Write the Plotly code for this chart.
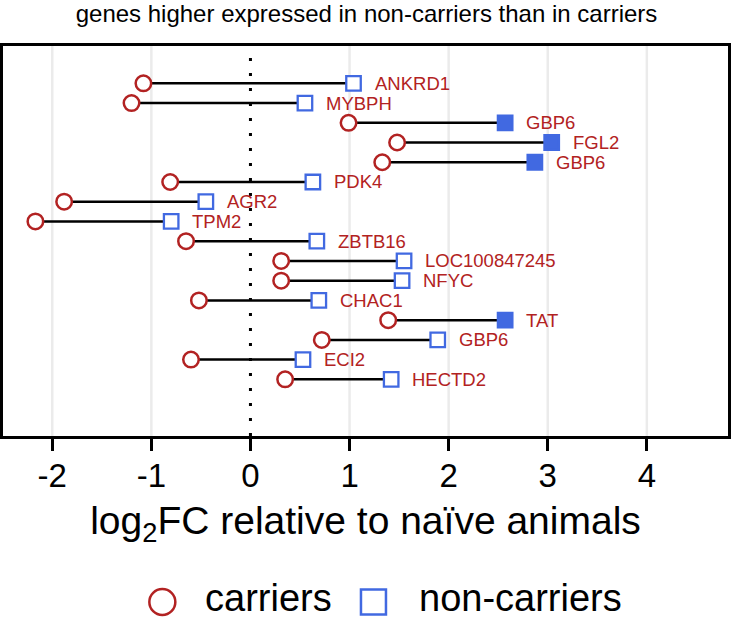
import plotly.graph_objects as go

# --- data ---
genes = ["ANKRD1", "MYBPH", "GBP6", "FGL2", "GBP6", "PDK4", "AGR2", "TPM2",
         "ZBTB16", "LOC100847245", "NFYC", "CHAC1", "TAT", "GBP6", "ECI2", "HECTD2"]
carriers = [-1.08, -1.20, 0.99, 1.48, 1.33, -0.81, -1.88, -2.17,
            -0.65, 0.31, 0.31, -0.52, 1.39, 0.72, -0.60, 0.35]
non_carriers = [1.04, 0.55, 2.57, 3.04, 2.87, 0.63, -0.45, -0.80,
                0.67, 1.55, 1.53, 0.69, 2.57, 1.89, 0.53, 1.42]
significant = [False, False, True, True, True, False, False, False,
               False, False, False, False, True, False, False, False]
x_ticks = [-2, -1, 0, 1, 2, 3, 4]

# --- styling ---
RED = "#B22222"
BLUE = "#4169E1"
FONT = "Liberation Sans, Arial, sans-serif"
W, H = 733, 621
M_L, M_R, M_T, M_B = 3, 2, 46, 185
PW, PH = W - M_L - M_R, H - M_T - M_B

rows = list(range(len(genes)))

fig = go.Figure()

# segments carrier -> non-carrier
seg_x, seg_y = [], []
for r, c, n in zip(rows, carriers, non_carriers):
    seg_x += [c, n, None]
    seg_y += [r, r, None]
fig.add_trace(go.Scatter(x=seg_x, y=seg_y, mode="lines",
                         line=dict(color="black", width=2.5),
                         hoverinfo="skip", showlegend=False))

# carriers (open circles)
fig.add_trace(go.Scatter(
    x=carriers, y=rows, mode="markers", name="carriers", text=genes,
    marker=dict(symbol="circle", size=15.5, color="white",
                line=dict(color=RED, width=2.5)),
    showlegend=False))

# non-carriers, open vs filled squares
open_idx = [i for i in rows if not significant[i]]
fill_idx = [i for i in rows if significant[i]]
fig.add_trace(go.Scatter(
    x=[non_carriers[i] for i in open_idx], y=open_idx, mode="markers",
    name="non-carriers", text=[genes[i] for i in open_idx],
    marker=dict(symbol="square", size=14.5, color="white",
                line=dict(color=BLUE, width=2.3)),
    showlegend=False))
fig.add_trace(go.Scatter(
    x=[non_carriers[i] for i in fill_idx], y=fill_idx, mode="markers",
    name="non-carriers", text=[genes[i] for i in fill_idx],
    marker=dict(symbol="square", size=14.5, color=BLUE,
                line=dict(color=BLUE, width=2.3)),
    showlegend=False))

# gene labels right of the non-carrier square
for r, g, n in zip(rows, genes, non_carriers):
    fig.add_annotation(x=n, y=r, text=g, showarrow=False, xanchor="left",
                       yanchor="middle", xshift=19,
                       font=dict(family=FONT, size=18.5, color=RED))

# light vertical grid (none at zero) + dotted zero line
for t in x_ticks:
    if t == 0:
        continue
    fig.add_shape(type="line", x0=t, x1=t, y0=0, y1=1, xref="x", yref="paper",
                  line=dict(color="#EBEBEB", width=2.5), layer="below")
fig.add_shape(type="line", x0=0, x1=0, y0=0, y1=1, xref="x", yref="paper",
              line=dict(color="black", width=3, dash="3px,12px"), layer="below")

# hand-drawn legend below the axis title
def px_x(px):
    return (px - M_L) / PW

def px_y(py):
    return (H - M_B - py) / PH

fig.add_shape(type="circle", xref="paper", yref="paper",
              xsizemode="pixel", ysizemode="pixel",
              xanchor=px_x(163), yanchor=px_y(602),
              x0=-13, x1=13, y0=-13, y1=13,
              line=dict(color=RED, width=2.5))
fig.add_shape(type="rect", xref="paper", yref="paper",
              xsizemode="pixel", ysizemode="pixel",
              xanchor=px_x(375), yanchor=px_y(602),
              x0=-12.5, x1=12.5, y0=-12.5, y1=12.5,
              line=dict(color=BLUE, width=2.5))
fig.add_annotation(x=px_x(204), y=px_y(598), xref="paper", yref="paper",
                   text="carriers", showarrow=False, xanchor="left", yanchor="middle",
                   font=dict(family=FONT, size=38, color="black"))
fig.add_annotation(x=px_x(419), y=px_y(598), xref="paper", yref="paper",
                   text="non-carriers", showarrow=False, xanchor="left", yanchor="middle",
                   font=dict(family=FONT, size=38, color="black"))

fig.update_layout(
    width=W, height=H,
    margin=dict(l=M_L, r=M_R, t=M_T, b=M_B),
    paper_bgcolor="white", plot_bgcolor="white",
    font=dict(family=FONT, color="black"),
    title=dict(text="genes higher expressed in non-carriers than in carriers",
               x=0.5, xanchor="center", y=1 - 14 / H, yanchor="middle",
               font=dict(family=FONT, size=24, color="black")),
    showlegend=False,
)
fig.update_xaxes(
    range=[-2.497, 4.819], tickvals=x_ticks, ticktext=[str(t) for t in x_ticks],
    showgrid=False, zeroline=False,
    showline=True, linecolor="black", linewidth=2.5, mirror=True,
    ticks="outside", ticklen=12, tickwidth=3, tickcolor="black",
    ticklabelstandoff=-3,
    tickfont=dict(family=FONT, size=33, color="black"),
    title=dict(text="log<sub>2</sub>FC relative to naïve animals",
               font=dict(family=FONT, size=39, color="black"), standoff=14),
)
fig.update_yaxes(
    range=[17.87, -1.89], showticklabels=False, showgrid=False, zeroline=False,
    showline=True, linecolor="black", linewidth=2.5, mirror=True, ticks="",
)

# the page body has a default 8px margin; drop it so the figure sits at 0,0
fig.write_html("out.html",
               config={"displayModeBar": False},
               post_script="document.body.style.margin='0';")
